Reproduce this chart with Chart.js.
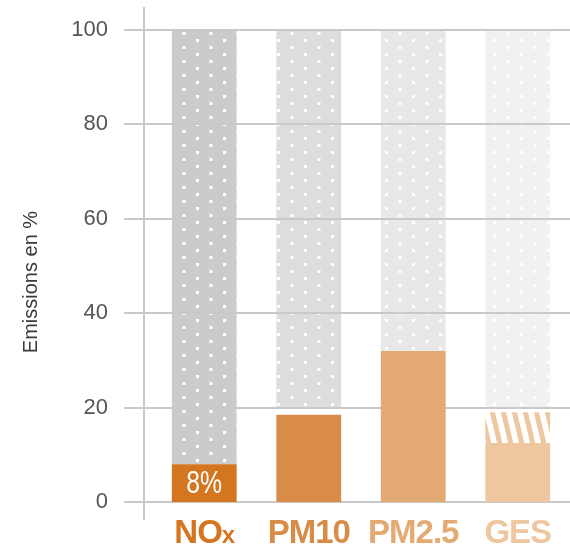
<!DOCTYPE html>
<html>
<head>
<meta charset="utf-8">
<script src="https://cdn.jsdelivr.net/npm/chart.js@4"></script>
<style>
  html, body { margin: 0; padding: 0; background: #fff; }
  #wrap { width: 570px; height: 549px; }
</style>
</head>
<body>
<div id="wrap"><canvas id="chart" width="570" height="549"></canvas></div>
<script>
// Emissions share per pollutant, % of total

const categories  = ["NOx", "PM10", "PM2.5", "GES"];
const shareValues = [8, 18.5, 32, 12.5];
const hatchFrom   = [null, null, null, 12.5];   // GES: uncertain part
const hatchTo     = [null, null, null, 19];
const restFrom    = [8, 20, 32, 20];            // grey "rest" up to 100
const restTo      = [100, 100, 100, 100];
const valueLabels = ["8%", "", "", ""];
const yTicks      = [0, 20, 40, 60, 80, 100];

const barColors  = ["#d4761f", "#d98c48", "#e3aa73", "#eec6a0"];
const greyColors = ["#cbcbcb", "#dddddd", "#e8e8e8", "#f0f1f1"];
const FONT = "'Liberation Sans', Arial, sans-serif";

// dotted grey fill, one pattern per bar
function dotPattern(bg) {
  const c = document.createElement("canvas");
  c.width = 27; c.height = 14;
  const g = c.getContext("2d");
  g.fillStyle = bg;
  g.fillRect(0, 0, 27, 14);
  g.fillStyle = "#fff";
  g.fillRect(7, 11, 3, 3);
  g.fillRect(20.5, 4, 3, 3);
  return g.createPattern(c, "repeat");
}

// steep "\" stripes
function hatchPattern(color) {
  const W = 11, H = 47;
  const c = document.createElement("canvas");
  c.width = W; c.height = H;
  const g = c.getContext("2d");
  g.strokeStyle = color;
  g.lineWidth = 5;
  for (const k of [-W, 0, W]) {
    g.beginPath();
    g.moveTo(k - 1, -H * 0.1);
    g.lineTo(k + W + 1, H * 1.1);
    g.stroke();
  }
  return g.createPattern(c, "repeat");
}

const GREY_INDEX = 2;

const gridPlugin = {
  id: "gridOverGrey",
  afterDatasetDraw(chart, args) {
    if (args.index !== GREY_INDEX) return;
    const { ctx, chartArea, scales } = chart;
    ctx.save();
    ctx.strokeStyle = "#c9c9c9";
    ctx.lineWidth = 2;
    for (const v of yTicks) {
      const y = Math.round(scales.y.getPixelForValue(v));
      ctx.beginPath();
      ctx.moveTo(chartArea.left - 28, y);
      ctx.lineTo(chart.width, y);
      ctx.stroke();
    }
    // axis line, longer than the plot
    ctx.beginPath();
    ctx.moveTo(chartArea.left - 8, chartArea.top - 23);
    ctx.lineTo(chartArea.left - 8, chartArea.bottom + 18);
    ctx.stroke();
    ctx.restore();
  },
};

const labelsPlugin = {
  id: "labels",
  afterDraw(chart) {
    const { ctx, chartArea, scales } = chart;
    ctx.save();

    // value inside bar
    const meta = chart.getDatasetMeta(0);
    meta.data.forEach((bar, i) => {
      if (!valueLabels[i]) return;
      ctx.save();
      ctx.translate(bar.x, (bar.y + bar.base) / 2 + 1);
      ctx.scale(0.8, 1);
      ctx.fillStyle = "#fff";
      ctx.font = "31px " + FONT;
      ctx.textAlign = "center";
      ctx.textBaseline = "middle";
      ctx.fillText(valueLabels[i], 0, 0);
      ctx.restore();
    });

    // category labels under the axis
    const base = chartArea.bottom + 41;
    ctx.textBaseline = "alphabetic";
    ctx.letterSpacing = "-1px";
    categories.forEach((cat, i) => {
      const x = scales.x.getPixelForValue(i);
      ctx.fillStyle = barColors[i];
      if (cat === "NOx") {
        ctx.font = "bold 33px " + FONT;
        const w1 = ctx.measureText("NO").width;
        ctx.font = "bold 24px " + FONT;
        const w2 = ctx.measureText("x").width;
        const left = x - (w1 + w2) / 2;
        ctx.textAlign = "left";
        ctx.font = "bold 33px " + FONT;
        ctx.fillText("NO", left, base);
        ctx.font = "bold 24px " + FONT;
        ctx.fillText("x", left + w1, base);
      } else {
        ctx.font = "bold 33px " + FONT;
        ctx.textAlign = "center";
        ctx.fillText(cat, x, base);
      }
    });
    ctx.letterSpacing = "0px";

    // y title
    ctx.translate(31, 282);
    ctx.rotate(-Math.PI / 2);
    ctx.fillStyle = "#3a3a3a";
    ctx.font = "20px " + FONT;
    ctx.textAlign = "center";
    ctx.textBaseline = "middle";
    ctx.fillText("Emissions en %", 0, 0);
    ctx.restore();
  },
};

new Chart(document.getElementById("chart"), {
  type: "bar",
  data: {
    labels: categories,
    datasets: [
      {
        label: "Part",
        data: shareValues,
        backgroundColor: barColors,
        order: 1,
      },
      {
        label: "Incertain",
        data: hatchFrom.map((v, i) => (v == null ? null : [v, hatchTo[i]])),
        backgroundColor: barColors.map((c) => hatchPattern(c)),
        order: 2,
      },
      {
        label: "Reste",
        data: restFrom.map((v, i) => [v, restTo[i]]),
        backgroundColor: greyColors.map((c) => dotPattern(c)),
        order: 3,
      },
    ],
  },
  options: {
    responsive: false,
    animation: false,
    layout: { padding: { top: 30, right: 0, bottom: 47, left: 0 } },
    datasets: {
      bar: { barPercentage: 0.62, categoryPercentage: 1, borderWidth: 0 },
    },
    plugins: {
      legend: { display: false },
      tooltip: { enabled: false },
    },
    scales: {
      x: {
        stacked: true,
        display: false,
      },
      y: {
        stacked: false,
        min: 0,
        max: 100,
        afterFit: (s) => {
          s.width = 152;
          s.paddingTop = 0;
          s.paddingBottom = 0;
        },
        grid: { display: false, drawTicks: false },
        border: { display: false },
        ticks: {
          stepSize: 20,
          padding: 44,
          color: "#555",
          font: { family: FONT, size: 22 },
        },
      },
    },
  },
  plugins: [gridPlugin, labelsPlugin],
});
</script>
</body>
</html>
